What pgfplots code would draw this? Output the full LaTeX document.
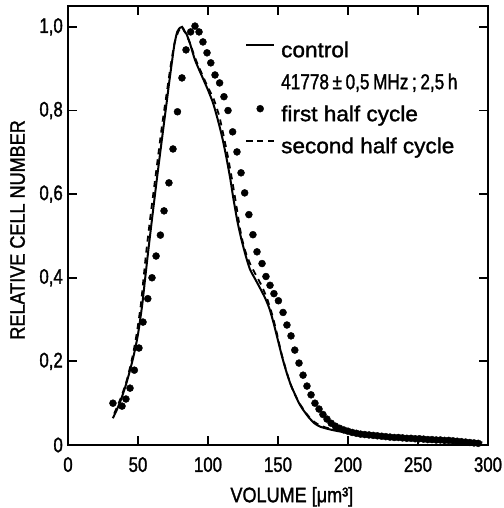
\documentclass[border=0pt]{standalone}
\usepackage{fontspec}
\setmainfont{Liberation Sans}[FakeBold=1.2]
\newfontfamily\tickfont{Liberation Sans}[FakeStretch=0.8,FakeBold=1.4]
\newfontfamily\labfont{Liberation Sans}[FakeStretch=0.86,FakeBold=1.4]
\newfontfamily\legfont{Liberation Sans}[FakeStretch=1.05,FakeBold=1.4]
\usepackage{pgfplots}
\pgfplotsset{compat=1.18}

\begin{document}
\begin{tikzpicture}
\useasboundingbox (-68pt,-63pt) rectangle (435pt,445pt);
\begin{axis}[
  at={(0pt,0pt)}, anchor=south west,
  scale only axis, width=420pt, height=439pt,
  xmin=0, xmax=300, ymin=0, ymax=1.05,
  xtick={0,50,100,150,200,250,300}, xticklabels={0,50,100,150,200,250,300},
  ytick={0,0.2,0.4,0.6,0.8,1.0}, yticklabels={0,{0,2},{0,4},{0,6},{0,8},{1,0}},
  tick align=inside, major tick length=9pt,
  tick style={black, line width=1.8pt},
  axis line style={line width=1.8pt},
  ticklabel style={font=\tickfont\fontsize{21}{24}\selectfont, inner sep=0pt},
  xticklabel style={yshift=-12pt},
  yticklabel style={xshift=-5pt},
  xlabel={VOLUME [μm³]}, ylabel={RELATIVE CELL NUMBER},
  label style={font=\labfont\fontsize{21}{24}\selectfont},
  xlabel style={at={(axis description cs:0.533,-0.118)}, anchor=center},
  ylabel style={at={(axis description cs:-0.1202,0.49)}, anchor=center},
  legend style={at={(axis description cs:0.4214,0.9203)}, anchor=north west,
    draw=none, fill=none, inner sep=0pt, row sep=11pt, column sep=6pt,
    font=\legfont\fontsize{21.5}{24}\selectfont,
    nodes={inner sep=0pt, text height=16pt, text depth=5pt}},
  legend cell align=left,
  legend image code/.code={\draw[#1, mark repeat=2, mark phase=2] plot coordinates {(0pt,7pt)(14pt,7pt)(28pt,7pt)};},
]
% control
\addplot[black, line width=2pt, smooth, tension=0.4] coordinates {
(32,0.064)(35,0.085)(38,0.110)(41,0.140)(44,0.175)(47,0.215)(50,0.265)(53,0.335)
(55,0.395)(57,0.455)(60,0.540)(64,0.650)(68,0.755)(70.5,0.820)(72,0.860)(74,0.910)
(76,0.958)(78,0.988)(80,0.998)(81.5,1.000)(83,0.990)(84.5,0.984)(87,0.962)(90.7,0.921)
(95.7,0.882)(100,0.849)(103.6,0.818)(107,0.778)(110,0.738)(113,0.690)(116,0.635)
(118,0.592)(121,0.535)(124,0.490)(127,0.452)(130,0.420)(134,0.395)(138,0.370)
(141,0.350)(144,0.325)(147,0.290)(150,0.250)(153,0.210)(156,0.175)(159,0.145)
(162,0.122)(165,0.100)(168,0.084)(172,0.066)(176,0.052)(180,0.044)(185,0.039)
(190,0.035)(200,0.029)(210,0.025)(220,0.022)(240,0.017)(260,0.013)(280,0.009)(296,0.006)
};
\addlegendentry{control}
\addlegendimage{empty legend}
\addlegendentry{\tickfont 41778\,±\,0,5\,MHz\,;\,2,5\,h}
% first half cycle
\addplot[only marks, mark=*, mark size=3.5pt, black] coordinates {
(32.1,0.100)(38.6,0.093)(41.4,0.110)(44.3,0.136)(47.4,0.179)(50.7,0.232)(53.6,0.294)
(57.0,0.350)(60.0,0.400)(62.9,0.452)(66.0,0.502)(68.6,0.560)(72.1,0.627)(75.0,0.708)
(78.2,0.797)(81.4,0.878)(84.3,0.945)(87.6,0.988)(90.7,1.002)(93.6,0.988)(96.4,0.964)
(99.3,0.938)(102.0,0.914)(105.0,0.885)(108.3,0.866)(111.4,0.833)(114.3,0.800)
(117.6,0.749)(120.7,0.701)(123.6,0.651)(126.2,0.603)(129.2,0.551)(132.1,0.503)
(135.0,0.462)(138.6,0.434)(141.4,0.403)(144.3,0.382)(147.1,0.362)(150.3,0.345)
(153.6,0.317)(156.4,0.287)(159.3,0.261)(162.0,0.227)(165.0,0.196)(167.9,0.167)
(170.7,0.141)(173.6,0.120)(176.4,0.100)(179.3,0.086)(182.1,0.073)(185,0.062)
(188,0.052)(191,0.045)(194,0.040)(197,0.036)(200,0.033)(203,0.030)(206,0.028)
(209,0.026)(212,0.025)(215,0.024)(218,0.023)(221,0.022)(224,0.021)(227,0.020)
(230,0.019)(233,0.018)(236,0.018)(239,0.017)(242,0.016)(245,0.016)(248,0.015)
(251,0.015)(254,0.014)(257,0.013)(260,0.013)(263,0.012)(266,0.012)(269,0.011)
(272,0.011)(275,0.010)(278,0.009)(281,0.008)(284,0.007)(287,0.006)(290,0.005)(293,0.004)
};
\addlegendentry{first half cycle}
% second half cycle
\addplot[black, line width=1.8pt, dash pattern=on 6pt off 5pt, smooth, tension=0.4] coordinates {
(33,0.075)(38,0.115)(42,0.155)(46,0.210)(49,0.265)(52,0.335)(54,0.400)(56,0.465)
(59,0.550)(63,0.655)(67,0.760)(70,0.830)(73,0.900)(76,0.960)(79,0.990)(81.5,1.000)
(84,0.985)(87,0.962)(91,0.924)(96,0.885)(100,0.855)(104,0.828)(108,0.787)(111,0.742)
(114,0.693)(117,0.638)(120,0.578)(123,0.515)(126,0.470)(130,0.434)(134,0.408)
(138,0.383)(142,0.352)(146,0.310)(149,0.270)(152,0.225)(155,0.188)(158,0.155)
(161,0.128)(165,0.102)(168,0.086)(172,0.068)(176,0.055)(180,0.047)(185,0.041)(190,0.037)
(200,0.030)(220,0.022)(250,0.016)(280,0.010)(295,0.006)
};
\addlegendentry{second half cycle}
\end{axis}
\end{tikzpicture}
\end{document}
